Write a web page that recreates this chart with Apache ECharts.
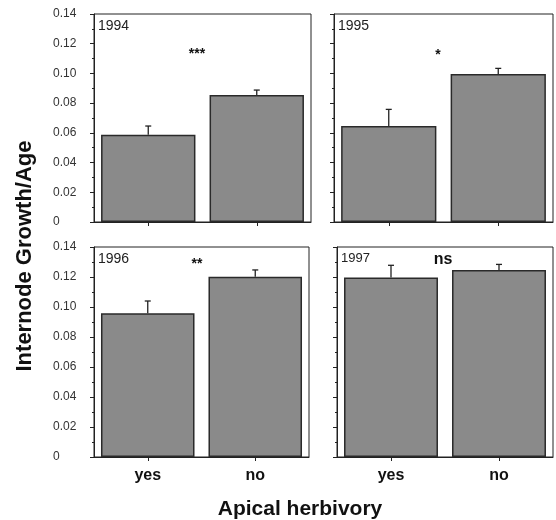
<!DOCTYPE html>
<html lang="en">
<head>
    <meta charset="UTF-8">
    <title>Internode Growth/Age</title>
    <style>
        html, body { margin: 0; padding: 0; background: #fff; }
        #main { width: 556px; height: 520px; }
    </style>
</head>
<body>
    <div id="main"></div>
    <script src="https://cdn.jsdelivr.net/npm/echarts@6/dist/echarts.min.js"></script>
    <script>
        // data
        const categories = ['yes', 'no'];
        const years = ['1994', '1995', '1996', '1997'];
        const sigLabels = ['***', '*', '**', 'ns'];
        const yesMeans = [0.0588, 0.0646, 0.0958, 0.1196];
        const noMeans = [0.0855, 0.0996, 0.1202, 0.1247];
        const yesErr = [0.0058, 0.0112, 0.0082, 0.0082];
        const noErr = [0.0033, 0.0038, 0.0045, 0.0037];

        const font = 'Liberation Sans, Arial, sans-serif';
        const ink = '#222';

        // panel boxes (px)
        const panels = [
            { left: 94, top: 14, width: 217, height: 208 },
            { left: 334, top: 14, width: 219, height: 208 },
            { left: 94, top: 247, width: 215, height: 210 },
            { left: 337, top: 247, width: 216, height: 210 }
        ];
        // where the significance marks sit
        const sigPos = [[197, 54], [438, 55], [197, 264], [443, 260]];
        const yearSize = [14, 14, 14, 13];

        const chart = echarts.init(document.getElementById('main'));

        const grid = [], xAxis = [], yAxis = [], series = [], graphic = [];

        panels.forEach(function (p, i) {
            const bottomRow = i >= 2;
            const leftCol = i % 2 === 0;
            grid.push({
                left: p.left, top: p.top, width: p.width, height: p.height,
                show: true, borderColor: ink, borderWidth: 1
            });
            xAxis.push({
                type: 'category', gridIndex: i, data: categories,
                axisLine: { lineStyle: { color: ink, width: 1 } },
                axisTick: { show: true, alignWithLabel: true, length: 4, lineStyle: { color: ink } },
                axisLabel: {
                    show: bottomRow, margin: 11, color: '#111',
                    fontFamily: font, fontSize: 16, fontWeight: 'bold'
                },
                splitLine: { show: false }
            });
            yAxis.push({
                type: 'value', gridIndex: i, min: 0, max: 0.14, interval: 0.02,
                axisLine: { show: true, lineStyle: { color: ink, width: 1 } },
                axisTick: { show: true, length: 4, lineStyle: { color: ink } },
                minorTick: { show: true, splitNumber: 2, length: 2, lineStyle: { color: ink } },
                splitLine: { show: false },
                axisLabel: {
                    show: leftCol, align: 'left', margin: 41, color: '#333',
                    fontFamily: font, fontSize: 12,
                    formatter: function (v) { return v === 0 ? '0' : v.toFixed(2); }
                }
            });
            series.push({
                type: 'bar', xAxisIndex: i, yAxisIndex: i,
                data: [yesMeans[i], noMeans[i]],
                barWidth: '87%',
                itemStyle: { color: '#8a8a8a', borderColor: '#2a2a2a', borderWidth: 1.5 },
                silent: true
            });
            series.push({
                type: 'custom', xAxisIndex: i, yAxisIndex: i,
                data: [[0, yesMeans[i], yesErr[i]], [1, noMeans[i], noErr[i]]],
                renderItem: function (params, api) {
                    const base = api.coord([api.value(0), api.value(1)]);
                    const top = api.coord([api.value(0), api.value(1) + api.value(2)]);
                    const st = { stroke: ink, lineWidth: 1.3 };
                    return {
                        type: 'group',
                        children: [
                            { type: 'line', shape: { x1: base[0], y1: base[1], x2: top[0], y2: top[1] }, style: st },
                            { type: 'line', shape: { x1: top[0] - 3, y1: top[1], x2: top[0] + 3, y2: top[1] }, style: st }
                        ]
                    };
                },
                z: 5, silent: true
            });
            graphic.push({
                type: 'text', left: p.left + 4, top: p.top + 5,
                style: { text: years[i], fill: '#222', font: yearSize[i] + 'px ' + font }
            });
            const isNs = sigLabels[i] === 'ns';
            graphic.push({
                type: 'text', x: sigPos[i][0], y: sigPos[i][1],
                style: {
                    text: sigLabels[i], fill: '#111', align: 'center', verticalAlign: 'middle',
                    font: isNs ? 'bold 16px ' + font : 'bold 14px ' + font
                }
            });
        });

        graphic.push({
            type: 'text', x: 25, y: 256, rotation: Math.PI / 2,
            style: {
                text: 'Internode Growth/Age', fill: '#111', align: 'center', verticalAlign: 'middle',
                font: 'bold 22px ' + font
            }
        });
        graphic.push({
            type: 'text', x: 300, y: 509,
            style: {
                text: 'Apical herbivory', fill: '#111', align: 'center', verticalAlign: 'middle',
                font: 'bold 21px ' + font
            }
        });

        chart.setOption({
            animation: false,
            grid: grid,
            xAxis: xAxis,
            yAxis: yAxis,
            series: series,
            graphic: graphic
        });
    </script>
</body>
</html>
